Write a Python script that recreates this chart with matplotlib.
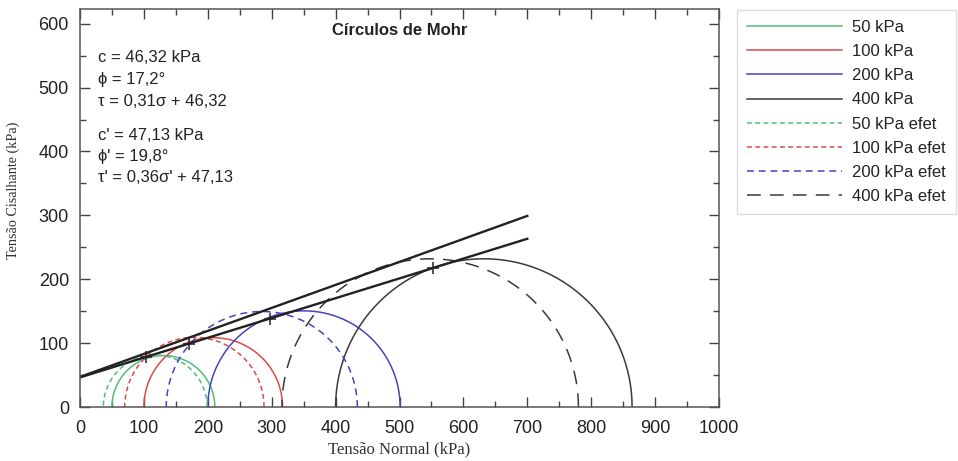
import numpy as np
import matplotlib
matplotlib.use("Agg")
import matplotlib.pyplot as plt
from matplotlib.ticker import MultipleLocator

plt.rcParams['font.family'] = ['Liberation Sans', 'DejaVu Sans']

# Confining pressures (legend labels) and principal stresses at failure (kPa)
labels = ["50 kPa", "100 kPa", "200 kPa", "400 kPa"]
sigma3_total = [50, 100, 200, 400]
sigma1_total = [211, 317, 501, 864]
sigma3_eff = [36.5, 70, 135, 316]
sigma1_eff = [199, 288, 434, 780]

# Failure envelopes: tau = a*sigma + c
slope_total, cohesion_total = 0.31, 46.32
slope_eff, cohesion_eff = 0.36, 47.13
envelope_end = 700

# Tangency points marked on the total-stress envelope (sigma, kPa)
tangent_sigma = [103, 170, 297, 553]

colors = ["#4fbf78", "#d94a4a", "#4444c0", "#3a3a3a"]
eff_dashes = [(3.2, 2.2), (3.2, 2.2), (4.5, 3.2), (9.0, 6.0)]

fig = plt.figure(figsize=(9.58, 4.61), dpi=100)
ax = fig.add_axes([80 / 958, 1 - 407 / 461, 639 / 958, 398 / 461])

theta = np.linspace(0, np.pi, 300)


def semicircle(s3, s1):
    c = 0.5 * (s3 + s1)
    r = 0.5 * (s1 - s3)
    return c + r * np.cos(theta), r * np.sin(theta)


handles = []
for lab, s3, s1, col in zip(labels, sigma3_total, sigma1_total, colors):
    x, y = semicircle(s3, s1)
    h, = ax.plot(x, y, color=col, lw=1.1, label=lab)
    handles.append(h)

for lab, s3, s1, col, d in zip(labels, sigma3_eff, sigma1_eff, colors, eff_dashes):
    x, y = semicircle(s3, s1)
    h, = ax.plot(x, y, color=col, lw=1.1, dashes=d, label=lab + " efet")
    handles.append(h)

xs = np.array([0, envelope_end])
ax.plot(xs, slope_eff * xs + cohesion_eff, color="#222222", lw=1.7)
ax.plot(xs, slope_total * xs + cohesion_total, color="#222222", lw=1.7)

ts = np.array(tangent_sigma)
ax.plot(ts, slope_total * ts + cohesion_total, ls="none", marker="+",
        ms=9, mew=1.1, color="#222222")

ax.set_xlim(0, 1000)
ax.set_ylim(0, 623)
ax.xaxis.set_major_locator(MultipleLocator(100))
ax.xaxis.set_minor_locator(MultipleLocator(50))
ax.yaxis.set_major_locator(MultipleLocator(100))
ax.yaxis.set_minor_locator(MultipleLocator(50))
ax.tick_params(which="both", direction="in", top=True, right=True,
               color="#444444", labelsize=13, labelcolor="#222222")
ax.tick_params(which="major", length=7, width=1)
ax.tick_params(which="minor", length=4, width=1)
ax.tick_params(axis="x", pad=9)
ax.tick_params(axis="y", pad=8)
for sp in ax.spines.values():
    sp.set_color("#555555")
    sp.set_linewidth(1.1)

ax.set_xlabel("Tensão Normal (kPa)", family="Liberation Serif", fontsize=12,
              color="#333333")
ax.xaxis.set_label_coords(0.5, -0.086)
ax.set_ylabel("Tensão Cisalhante (kPa)", family="Liberation Serif",
              fontsize=10.2, color="#333333")
ax.yaxis.set_label_coords(-0.094, 0.545)

ax.text(0.5, 0.945, "Círculos de Mohr", transform=ax.transAxes,
        ha="center", va="center", fontsize=12, fontweight="bold", color="#222222")

info_total = ["c = 46,32 kPa", "ϕ = 17,2°", "τ = 0,31σ + 46,32"]
info_eff = ["c' = 47,13 kPa", "ϕ' = 19,8°", "τ' = 0,36σ' + 47,13"]
for i, t in enumerate(info_total):
    ax.text(0.028, (407 - (58 + 21.5 * i)) / 398, t, transform=ax.transAxes,
            ha="left", va="center", fontsize=12, color="#222222")
for i, t in enumerate(info_eff):
    ax.text(0.028, (407 - (135 + 21.5 * i)) / 398, t, transform=ax.transAxes,
            ha="left", va="center", fontsize=12, color="#222222")

leg = fig.legend(handles=handles, loc="upper left",
                 bbox_to_anchor=(737 / 958, 1 - 10 / 461), borderaxespad=0,
                 fontsize=12, handlelength=5.7, handletextpad=0.6,
                 labelspacing=0.55, borderpad=0.6, fancybox=False,
                 framealpha=1, edgecolor="#dddddd")
for t in leg.get_texts():
    t.set_color("#222222")

fig.savefig("out.png", dpi=100)
